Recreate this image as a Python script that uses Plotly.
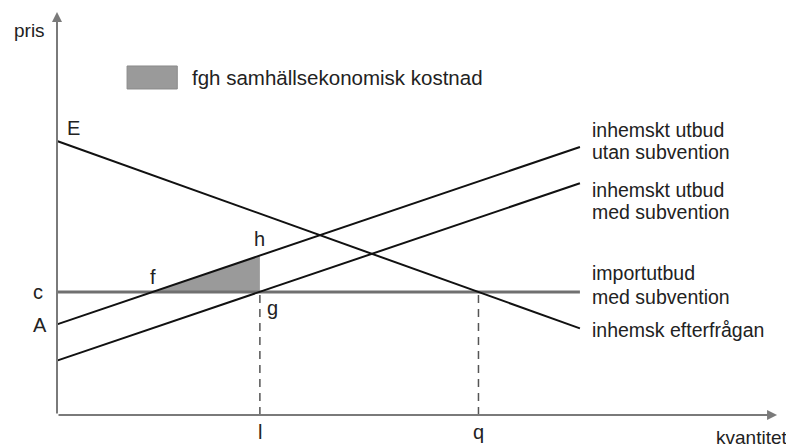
import plotly.graph_objects as go

# kvantitet (x) och pris (y) i diagrammets egna enheter
demand_q = [0, 100]
demand_p = [68, 21.5]

supply_q = [0, 100]
supply_p = [22.5, 66.5]

supply_sub_q = [0, 100]
supply_sub_p = [13.5, 57.5]

import_q = [0, 100]
import_p = [30.5, 30.5]

fgh_q = [18.2, 38.8, 38.8, 18.2]
fgh_p = [30.5, 30.5, 39.5, 30.5]

l_q = 38.8
q_q = 80.6
c_p = 30.5

right_labels = [
    ("inhemskt utbud", 70.7),
    ("utan subvention", 65.3),
    ("inhemskt utbud", 55.8),
    ("med subvention", 50.4),
    ("importutbud", 35.2),
    ("med subvention", 29.3),
    ("inhemsk efterfrågan", 21.1),
]

point_labels = [
    ("E", 3.2, 71.2),
    ("c", -3.6, c_p),
    ("A", -3.3, 22.3),
    ("f", 18.4, 34.2),
    ("h", 38.8, 43.6),
    ("g", 41.2, 26.6),
    ("l", l_q, -4.3),
    ("q", q_q, -4.3),
]

TXT = "#222222"
FONT = "Liberation Sans, Arial, sans-serif"

fig = go.Figure()

fig.add_trace(go.Scatter(x=fgh_q, y=fgh_p, mode="lines", fill="toself",
                         fillcolor="#9a9a9a", line=dict(width=0),
                         hoverinfo="skip"))

for qs in (l_q, q_q):
    fig.add_trace(go.Scatter(x=[qs, qs], y=[0, c_p], mode="lines",
                             line=dict(color="#555555", width=1.5,
                                       dash="8px,6px")))

fig.add_trace(go.Scatter(x=import_q, y=import_p, mode="lines",
                         line=dict(color="#707070", width=3)))
for xs, ys in ((demand_q, demand_p), (supply_q, supply_p),
               (supply_sub_q, supply_sub_p)):
    fig.add_trace(go.Scatter(x=xs, y=ys, mode="lines",
                             line=dict(color="#111111", width=2)))

# axlar med pilar
fig.add_annotation(x=0, y=100, ax=0, ay=0, xref="x", yref="y", axref="x",
                   ayref="y", showarrow=True, arrowhead=2, arrowsize=1,
                   arrowwidth=2, arrowcolor="#7a7a7a", text="")
fig.add_annotation(x=137.7, y=0, ax=0, ay=0, xref="x", yref="y", axref="x",
                   ayref="y", showarrow=True, arrowhead=2, arrowsize=1,
                   arrowwidth=2, arrowcolor="#7a7a7a", text="")

fig.add_annotation(x=-5.2, y=95.5, text="pris", showarrow=False,
                   font=dict(size=19, color=TXT))
fig.add_annotation(x=139.9, y=-5.6, text="kvantitet", showarrow=False,
                   xanchor="right", font=dict(size=19, color=TXT))

for txt, xx, yy in point_labels:
    fig.add_annotation(x=xx, y=yy, text=txt, showarrow=False,
                       font=dict(size=20, color=TXT))

for txt, yy in right_labels:
    fig.add_annotation(x=101.9, y=yy, text=txt, showarrow=False,
                       xanchor="left", font=dict(size=19.5, color=TXT))

# förklaring
fig.add_shape(type="rect", x0=13.4, x1=23.0, y0=80.9, y1=86.6,
              xref="x", yref="y", fillcolor="#9a9a9a",
              line=dict(color="#8a8a8a", width=1))
fig.add_annotation(x=25.4, y=83.7, text="fgh samhällsekonomisk kostnad",
                   showarrow=False, xanchor="left",
                   font=dict(size=20.5, color=TXT))

fig.update_xaxes(range=[-9.371, 142.47], visible=False)
fig.update_yaxes(range=[-10.17, 100.99], visible=False)
fig.update_layout(
    width=794, height=448,
    margin=dict(l=0, r=0, t=0, b=0),
    showlegend=False,
    plot_bgcolor="white", paper_bgcolor="white",
    font=dict(family=FONT),
)
fig.write_html("out.html")
